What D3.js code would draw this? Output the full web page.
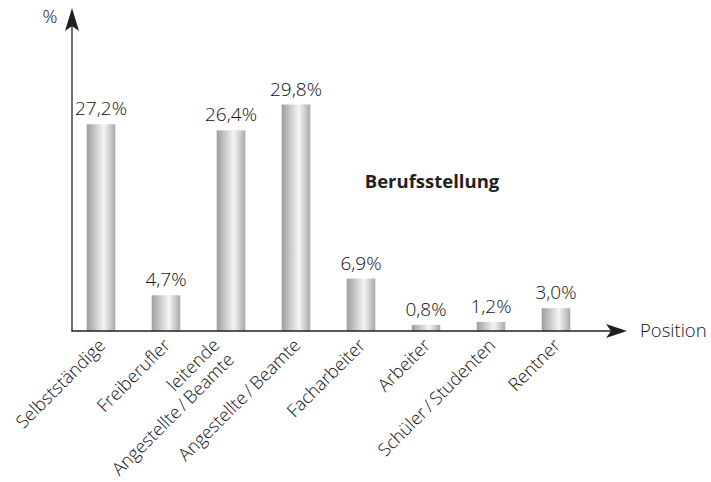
<!DOCTYPE html>
<html>
  <head>
    <meta charset="utf-8">
    <script src="https://d3js.org/d3.v7.min.js"></script>
    <style>
      body { margin: 0; background: #fff; }
      text { font-family: "Open Sans", sans-serif; font-weight: 300; fill: #111; }
      .axis { stroke: #231f20; stroke-width: 1.3; }
    </style>
  </head>
  <body>
    <svg id="chart" width="711" height="482"></svg>
    <script>
      // data
      var categories = [
        ["Selbstständige"],
        ["Freiberufler"],
        ["leitende", "Angestellte\u2009/\u2009Beamte"],
        ["Angestellte\u2009/\u2009Beamte"],
        ["Facharbeiter"],
        ["Arbeiter"],
        ["Schüler\u2009/\u2009Studenten"],
        ["Rentner"]
      ];
      var values = [27.2, 4.7, 26.4, 29.8, 6.9, 0.8, 1.2, 3.0];
      var valueLabels = ["27,2%", "4,7%", "26,4%", "29,8%", "6,9%", "0,8%", "1,2%", "3,0%"];
      var title = "Berufsstellung";

      var svg = d3.select("#chart");
      var x0 = 72, y0 = 331;

      var keys = categories.map(c => c.join(" "));
      var x = d3.scaleBand()
        .domain(keys)
        .range([68.5, 588.5])
        .paddingInner(0.56)
        .paddingOuter(0.28);
      var y = d3.scaleLinear()
        .domain([0, 40])
        .range([y0, y0 - 7.6 * 40]);

      var defs = svg.append("defs");
      var grad = defs.append("linearGradient")
        .attr("id", "barGrad")
        .attr("x1", "0%").attr("x2", "100%")
        .attr("y1", "0%").attr("y2", "0%");
      grad.append("stop").attr("offset", "0%").attr("stop-color", "#9d9d9d");
      grad.append("stop").attr("offset", "30%").attr("stop-color", "#c9c9c9");
      grad.append("stop").attr("offset", "60%").attr("stop-color", "#f5f5f5");
      grad.append("stop").attr("offset", "100%").attr("stop-color", "#a9a9a9");

      // bars
      svg.selectAll("rect.bar")
        .data(values)
        .enter()
        .append("rect")
          .attr("class", "bar")
          .attr("x", (d, i) => x(keys[i]))
          .attr("width", x.bandwidth())
          .attr("y", d => y(d))
          .attr("height", d => y0 - y(d))
          .style("fill", "url(#barGrad)");

      // value labels
      svg.selectAll("text.val")
        .data(values)
        .enter()
        .append("text")
          .attr("class", "val")
          .attr("x", (d, i) => x(keys[i]) + x.bandwidth() / 2)
          .attr("y", d => y(d) - 9)
          .attr("text-anchor", "middle")
          .style("font-size", "19px")
          .text((d, i) => valueLabels[i]);

      // axes with arrows
      svg.append("line").attr("class", "axis")
        .attr("x1", x0 - 0.5).attr("y1", y0).attr("x2", 612).attr("y2", y0);
      svg.append("line").attr("class", "axis")
        .attr("x1", x0).attr("y1", y0 + 0.5).attr("x2", x0).attr("y2", 26);
      svg.append("path")
        .attr("d", `M627,${y0} L606,${y0 - 7} L611,${y0} L606,${y0 + 7} Z`)
        .style("fill", "#231f20");
      svg.append("path")
        .attr("d", `M${x0},8 L${x0 - 7},31 L${x0},26 L${x0 + 7},31 Z`)
        .style("fill", "#231f20");

      svg.append("text")
        .attr("x", 50).attr("y", 23)
        .attr("text-anchor", "middle")
        .style("font-size", "18.5px")
        .text("%");
      svg.append("text")
        .attr("x", 640).attr("y", y0 + 6)
        .style("font-size", "18.5px")
        .text("Position");

      svg.append("text")
        .attr("x", 432).attr("y", 188)
        .attr("text-anchor", "middle")
        .style("font-size", "18.5px")
        .style("font-weight", "bold")
        .style("fill", "#231f20")
        .text(title);

      // rotated category labels; two-line ones sit further from the axis
      var cat = svg.selectAll("text.cat")
        .data(categories)
        .enter()
        .append("text")
          .attr("class", "cat")
          .attr("text-anchor", "end")
          .style("font-size", "18px")
          .attr("transform", (d, i) => {
            var cx = x(keys[i]) + x.bandwidth() / 2;
            return `translate(${cx + 1},${y0 + 11}) rotate(-45)`;
          });
      cat.selectAll("tspan")
        .data(d => d.map((t, j) => ({ t: t, j: j, n: d.length })))
        .enter()
        .append("tspan")
          .attr("x", d => d.n > 1 ? -11 : 0)
          .attr("dy", d => d.j === 0 ? (d.n > 1 ? "-0.28em" : "0.35em") : "1.14em")
          .text(d => d.t);
    </script>
  </body>
</html>
